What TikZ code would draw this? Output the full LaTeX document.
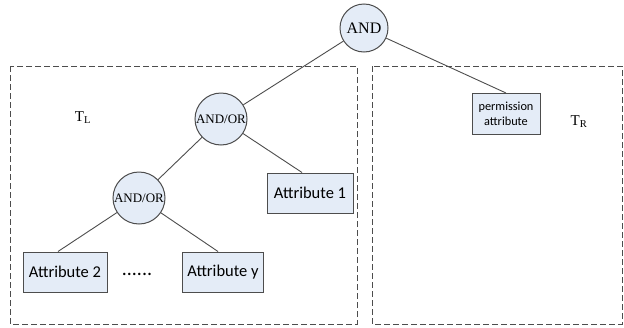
\documentclass[tikz,border=0pt]{standalone}
\usepackage{fontspec}
\setmainfont{Liberation Serif}
\newfontfamily\calibri{Carlito}
\usetikzlibrary{positioning}

\definecolor{nodefill}{HTML}{E4ECF7}
\definecolor{edgegray}{HTML}{4D4D4D}

\begin{document}
\begin{tikzpicture}[x=1pt, y=-1pt,
    gate/.style={circle, draw=edgegray, line width=1pt, fill=nodefill, inner sep=0pt, minimum size=52pt, font=\fontsize{13}{14}\selectfont},
    box/.style={rectangle, draw=edgegray, line width=1pt, fill=nodefill, inner sep=0pt, minimum width=84pt, minimum height=40pt, font=\calibri\fontsize{16.5}{18}\selectfont},
    link/.style={draw=edgegray, line width=0.9pt},
    region/.style={draw=edgegray, dash pattern=on 6pt off 3pt, line width=0.9pt},
    label/.style={inner sep=0pt, font=\fontsize{15}{16}\selectfont}
  ]
  \useasboundingbox (0,0) rectangle (624,327);

  % the two subtrees
  \draw[region] (10,66) rectangle (357,324);
  \draw[region] (372,66) rectangle (622,324);

  \node[gate, minimum size=48pt, font=\fontsize{16}{18}\selectfont] (and) at (364,28) {AND};
  \node[gate] (andorA) at (221,119) {AND/OR};
  \node[gate] (andorB) at (139,198) {AND/OR};
  \node[box, minimum width=86pt] (attrA) at (310,193) {Attribute 1};
  \node[box] (attrB) at (65,272) {Attribute 2};
  \node[box, minimum width=81pt] (attrY) at (223,272) {Attribute y};
  \node[inner sep=0pt, font=\calibri\fontsize{20}{20}\selectfont] (dots) at (137,274) {......};
  \node[box, minimum width=68pt, minimum height=41pt, align=center, font=\calibri\fontsize{12.3}{15}\selectfont] (perm) at (506,114) {permission\\attribute};

  \node[label] (tl) at (83,118) {T\textsubscript{L}};
  \node[label] (tr) at (579,122) {T\textsubscript{R}};

  \draw[link] (and) -- (andorA);
  \draw[link] (and) -- (perm.north);
  \draw[link] (andorA) -- (andorB);
  \draw[link] (andorA) -- ([xshift=-8pt]attrA.north);
  \draw[link] (andorB) -- ([xshift=-7pt]attrB.north);
  \draw[link] (andorB) -- ([xshift=-5pt]attrY.north);
\end{tikzpicture}
\end{document}
